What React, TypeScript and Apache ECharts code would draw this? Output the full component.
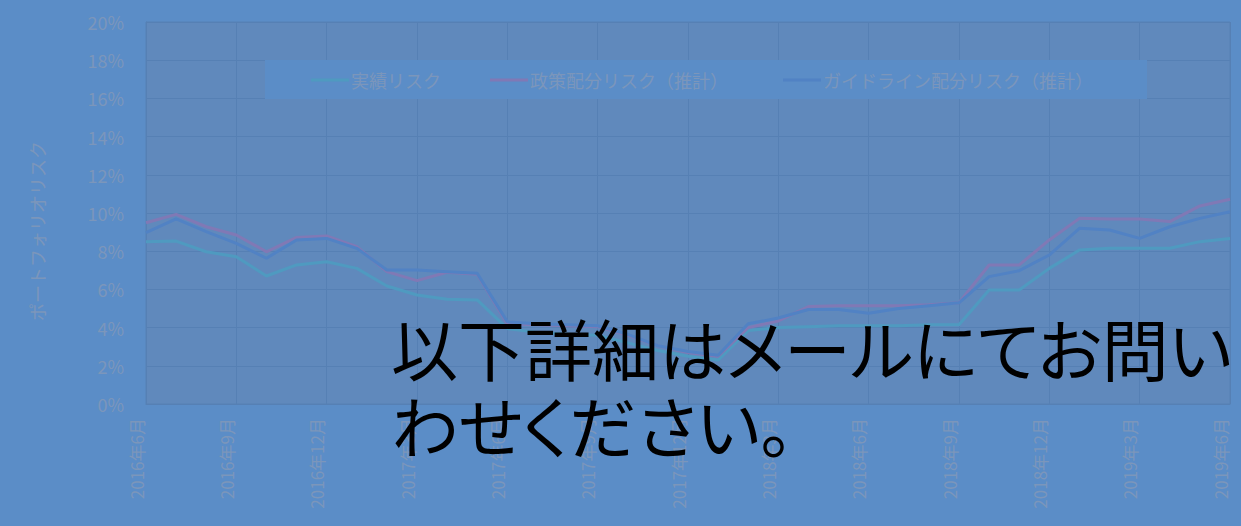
import React, { useEffect, useRef } from "react";
import * as echarts from "echarts";

const categories = [
  "2016年6月", "2016年7月", "2016年8月", "2016年9月", "2016年10月", "2016年11月", "2016年12月",
  "2017年1月", "2017年2月", "2017年3月", "2017年4月", "2017年5月", "2017年6月", "2017年7月",
  "2017年8月", "2017年9月", "2017年10月", "2017年11月", "2017年12月",
  "2018年1月", "2018年2月", "2018年3月", "2018年4月", "2018年5月", "2018年6月", "2018年7月",
  "2018年8月", "2018年9月", "2018年10月", "2018年11月", "2018年12月",
  "2019年1月", "2019年2月", "2019年3月", "2019年4月", "2019年5月", "2019年6月",
];

const actualRisk = [
  8.5, 8.53, 7.97, 7.71, 6.7, 7.28, 7.45, 7.1, 6.18, 5.71, 5.48, 5.45,
  3.95, 3.75, 3.65, 3.6, 3.2, 2.8, 2.5, 2.3, 3.85, 4.0, 4.05, 4.1, 4.1,
  4.1, 4.15, 4.15, 5.97, 5.97, 7.1, 8.06, 8.15, 8.15, 8.15, 8.5, 8.67,
];

const policyRisk = [
  9.49, 9.93, 9.28, 8.85, 7.97, 8.72, 8.8, 8.24, 6.93, 6.46, 6.9, 6.79,
  4.2, 4.15, 4.1, 4.05, 3.6, 3.05, 2.7, 2.5, 4.0, 4.35, 5.1, 5.15, 5.15,
  5.15, 5.2, 5.3, 7.28, 7.28, 8.59, 9.72, 9.68, 9.68, 9.55, 10.37, 10.72,
];

const guidelineRisk = [
  8.97, 9.69, 9.02, 8.41, 7.63, 8.59, 8.67, 8.15, 7.02, 7.02, 6.93, 6.84,
  4.3, 4.2, 4.15, 4.1, 3.65, 3.05, 2.75, 2.55, 4.2, 4.5, 4.95, 4.95, 4.75,
  5.0, 5.15, 5.3, 6.67, 6.98, 7.8, 9.2, 9.11, 8.67, 9.28, 9.72, 10.07,
];

const seriesNames = ["実績リスク", "政策配分リスク（推計）", "ガイドライン配分リスク（推計）"];
const yAxisTitle = "ポートフォリオリスク";
const overlayLines = ["以下詳細はメールにてお問い", "わせください。"];

const FONT = "'Noto Sans CJK JP', 'Noto Sans', sans-serif";
const BG = "#5b8dc7";
const PLOT_BG = "#6089bc";
const GRID = "#5680b4";
const LABEL = "#7b96bb";
const COLORS = ["#4f9ac0", "#8079b5", "#5182c4"];
const LEGEND_LEFTS = [311, 490, 783];

export default function App() {
  const ref = useRef<HTMLDivElement>(null);
  useEffect(() => {
    if (!ref.current) return;
    const chart = echarts.init(ref.current, null, { renderer: "svg" });
    const data = [actualRisk, policyRisk, guidelineRisk];
    chart.setOption({
      animation: false,
      backgroundColor: BG,
      textStyle: { fontFamily: FONT },
      grid: {
        left: 146,
        right: 11,
        top: 22,
        bottom: 122,
        show: true,
        backgroundColor: PLOT_BG,
        borderColor: GRID,
        borderWidth: 1,
      },
      legend: seriesNames.map((name, i) => ({
        data: [name],
        left: LEGEND_LEFTS[i],
        top: 71,
        padding: 0,
        itemWidth: 38,
        itemHeight: 3,
        itemGap: 0,
        icon: "rect",
        z: 5,
        textStyle: { color: LABEL, fontSize: 18, fontFamily: FONT, padding: [0, 0, 0, -3] },
      })),
      xAxis: {
        type: "category",
        data: categories,
        boundaryGap: false,
        axisLine: { show: true, lineStyle: { color: GRID } },
        axisTick: { show: false },
        axisLabel: {
          interval: 2,
          rotate: 90,
          margin: 14,
          color: LABEL,
          fontSize: 17,
          verticalAlign: "bottom",
          lineHeight: 20,
          fontFamily: FONT,
        },
        splitLine: { show: true, interval: 2, lineStyle: { color: GRID, width: 1 } },
      },
      yAxis: {
        type: "value",
        min: 0,
        max: 20,
        interval: 2,
        name: yAxisTitle,
        nameLocation: "middle",
        nameRotate: 90,
        nameGap: 100,
        nameTextStyle: { color: LABEL, fontSize: 18, fontFamily: FONT, padding: [0, 36, 0, 0] },
        axisLine: { show: true, lineStyle: { color: GRID } },
        axisTick: { show: false },
        axisLabel: { formatter: "{value}%", color: LABEL, fontSize: 18, margin: 22, fontFamily: FONT },
        splitLine: { show: true, lineStyle: { color: GRID, width: 1 } },
      },
      series: seriesNames.map((name, i) => ({
        name,
        type: "line",
        data: data[i],
        symbol: "none",
        showSymbol: false,
        color: COLORS[i],
        lineStyle: { color: COLORS[i], width: 3 },
        z: 3 + i,
      })),
      graphic: [
        {
          type: "rect",
          left: 265,
          top: 60,
          z: 1,
          shape: { width: 882, height: 39 },
          style: { fill: BG },
        },
        ...overlayLines.map((t, i) => ({
          type: "text",
          left: 391,
          top: 313 + i * 77,
          z: 100,
          style: {
            text: t,
            fill: "#000000",
            fontSize: 67,
            fontFamily: FONT,
          },
        })),
      ],
    });
    return () => chart.dispose();
  }, []);
  return (
    <>
      <style>{`svg text[style*="67px"]{font-feature-settings:"palt";}`}</style>
      <div
        ref={ref}
        style={{
          position: "fixed",
          left: 0,
          top: 0,
          width: 1241,
          height: 526,
        }}
      />
    </>
  );
}
